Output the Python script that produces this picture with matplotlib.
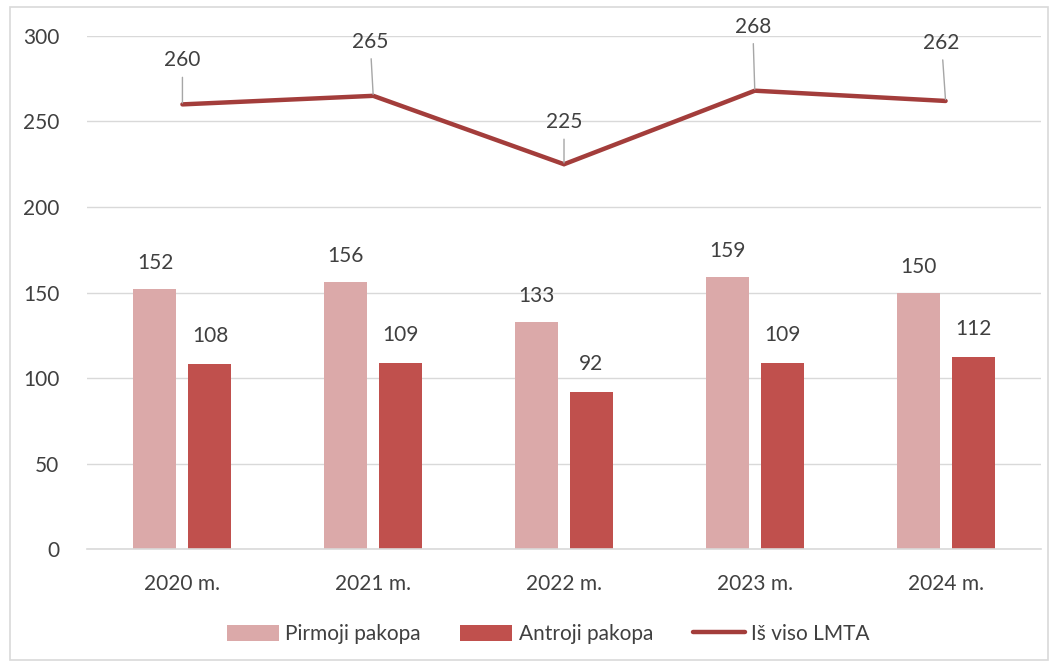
import matplotlib.pyplot as plt
import numpy as np
from matplotlib.patches import Rectangle

plt.rcParams['font.family'] = ['Lato', 'DejaVu Sans']

years = ['2020 m.', '2021 m.', '2022 m.', '2023 m.', '2024 m.']
first_level = [152, 156, 133, 159, 150]
second_level = [108, 109, 92, 109, 112]
total = [260, 265, 225, 268, 262]

# label offsets for the line labels (px: dx, dy)
line_label_offsets = [(0, 44), (-3, 54), (0, 42), (-2, 64), (-4, 58)]

txt = '#404040'
fs = 15
fig = plt.figure(figsize=(10.55, 6.65), dpi=100)
ax = fig.add_axes([0.0825, 0.1744, 0.9042, 0.7715])

x = np.arange(len(years))
w = 0.225
off = 0.144
b1 = ax.bar(x - off, first_level, w, color='#DBA9A9', label='Pirmoji pakopa', zorder=2)
b2 = ax.bar(x + off, second_level, w, color='#C0504D', label='Antroji pakopa', zorder=2)
ln, = ax.plot(x, total, color='#A33D3B', lw=3.2, solid_capstyle='round',
              solid_joinstyle='miter', label='Iš viso LMTA', zorder=3)

pt = 72 / 100  # px -> points
for xi, v in zip(x - off, first_level):
    ax.annotate(str(v), (xi, v), xytext=(0, 26 * pt), textcoords='offset points',
                ha='center', va='center', fontsize=fs, color=txt)
for xi, v in zip(x + off, second_level):
    ax.annotate(str(v), (xi, v), xytext=(0, 28 * pt), textcoords='offset points',
                ha='center', va='center', fontsize=fs, color=txt)
for xi, v, (dx, dy) in zip(x, total, line_label_offsets):
    ax.annotate(str(v), (xi, v), xytext=(dx * pt, dy * pt), textcoords='offset points',
                ha='center', va='center', fontsize=fs, color=txt,
                arrowprops=dict(arrowstyle='-', color='#A6A6A6', lw=1,
                                shrinkA=3, shrinkB=1))

ax.set_xlim(-0.5, 4.5)
ax.set_ylim(0, 300)
ax.set_yticks(range(0, 301, 50))
ax.set_xticks(x)
ax.set_xticklabels(years)
ax.tick_params(length=0, labelsize=fs, colors=txt)
ax.tick_params(axis='x', pad=18)
ax.tick_params(axis='y', pad=20)
ax.grid(axis='y', color='#D9D9D9', lw=1, zorder=0)
for s in ['top', 'right', 'left']:
    ax.spines[s].set_visible(False)
ax.spines['bottom'].set_color('#D9D9D9')
ax.spines['bottom'].set_linewidth(1.2)

fig.legend(handles=[b1, b2, ln], loc='center', bbox_to_anchor=(548 / 1055, 1 - 634 / 665),
           ncol=3, frameon=False, fontsize=fs, labelcolor=txt,
           handlelength=2.5, handleheight=0.8, columnspacing=1.9, handletextpad=0.3)

fig.patches.append(Rectangle((10 / 1055, 5 / 665), 1038 / 1055, 653 / 665,
                             transform=fig.transFigure, fill=False,
                             edgecolor='#D9D9D9', lw=1.2))

fig.savefig('out.png', dpi=100)
